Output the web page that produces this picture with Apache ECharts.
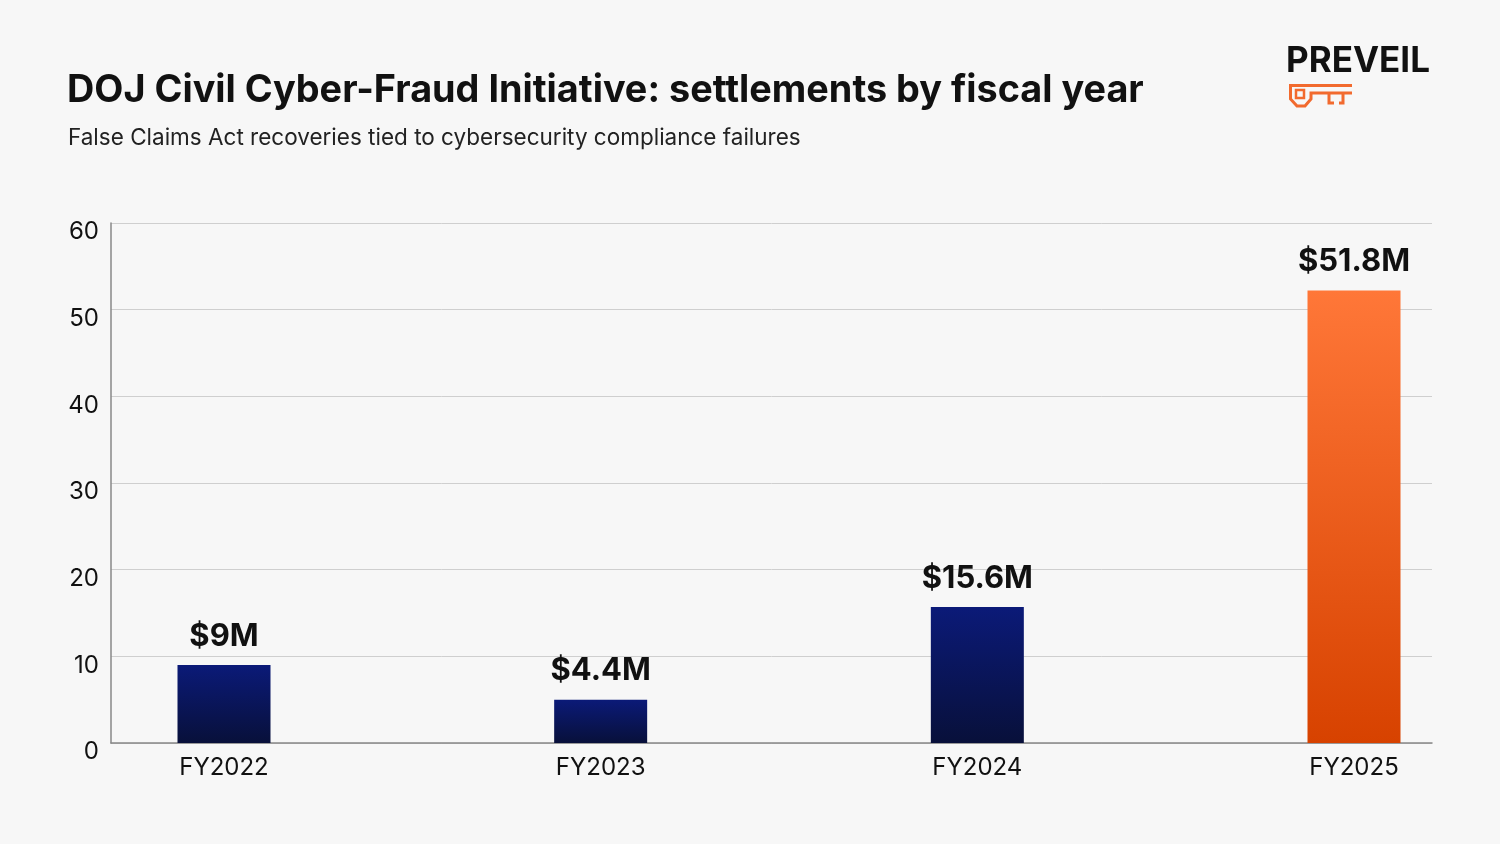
<!DOCTYPE html><html><head><meta charset="utf-8">
<script src="https://cdn.jsdelivr.net/npm/echarts@6/dist/echarts.min.js"></script>
<style>html,body{margin:0;background:#f7f7f7}#c{width:1500px;height:844px}</style></head><body><div id="c"></div>
<script>
const categories=['FY2022','FY2023','FY2024','FY2025'];
const values=[9,5,15.7,52.2];
const valueLabels=['$9M','$4.4M','$15.6M','$51.8M'];
const yTicks=[0,10,20,30,40,50,60];
const navy={type:'linear',x:0,y:0,x2:0,y2:1,colorStops:[{offset:0,color:'#0b1a78'},{offset:1,color:'#08103a'}]};
const orange={type:'linear',x:0,y:0,x2:0,y2:1,colorStops:[{offset:0,color:'#ff7738'},{offset:1,color:'#d74200'}]};
const O='#f26a2e';
const ch=echarts.init(document.getElementById('c'));
ch.setOption({
backgroundColor:'#f7f7f7',
textStyle:{fontFamily:'Inter'},
title:[{text:'DOJ Civil Cyber-Fraud Initiative: settlements by fiscal year',left:67,top:72,padding:0,textStyle:{fontSize:37.8,fontWeight:'bold',color:'#111',fontFamily:'Inter'}},
{text:'False Claims Act recoveries tied to cybersecurity compliance failures',left:68,top:127,padding:0,textStyle:{fontSize:22.5,fontWeight:'normal',color:'#222',fontFamily:'Inter'}}],
grid:[{left:111,right:68,top:223,height:520},{left:224,right:146,top:223,height:520}],
xAxis:[{gridIndex:0,type:'category',data:[''],axisLine:{lineStyle:{color:'#888',width:1.5}},axisTick:{show:false},axisLabel:{show:false}},
{gridIndex:1,type:'category',boundaryGap:false,data:categories,axisLine:{show:false},axisTick:{show:false},axisLabel:{fontSize:24,color:'#111',margin:13,fontFamily:'Inter'}}],
yAxis:[{gridIndex:0,type:'value',min:yTicks[0],max:yTicks[yTicks.length-1],interval:10,axisLine:{show:true,lineStyle:{color:'#888',width:1.5}},axisTick:{show:false},splitLine:{lineStyle:{color:'#cfcfcf'}},axisLabel:{fontSize:24,color:'#111',margin:12,verticalAlign:'top',lineHeight:18,fontFamily:'Inter'}},
{gridIndex:1,type:'value',min:0,max:60,show:false}],
series:[{type:'bar',xAxisIndex:1,yAxisIndex:1,barWidth:93,
data:values.map((v,i)=>({value:v,itemStyle:{color:i===3?orange:navy},label:{formatter:valueLabels[i]}})),
label:{show:true,position:'top',distance:13,fontSize:31,fontWeight:'bold',color:'#111',fontFamily:'Inter'}}],
graphic:[{type:'text',left:1286,top:44,style:{text:'PREVEIL',fontSize:35,fontWeight:'bold',fill:'#111',fontFamily:'Inter'}},
{type:'group',left:1288,top:83,children:[
{type:'polyline',shape:{points:[[63,1.5],[1.5,1.5],[1.5,15],[8,22],[16,22],[22,15],[22,9],[63,9]]},style:{stroke:O,lineWidth:3,fill:null}},
{type:'rect',shape:{x:7,y:6,width:8,height:8},style:{stroke:O,lineWidth:2.5,fill:null}},
{type:'polyline',shape:{points:[[40,9],[40,19],[45,19]]},style:{stroke:O,lineWidth:3,fill:null}},
{type:'polyline',shape:{points:[[54,9],[54,19],[50,19]]},style:{stroke:O,lineWidth:3,fill:null}}]}]
});
</script></body></html>
